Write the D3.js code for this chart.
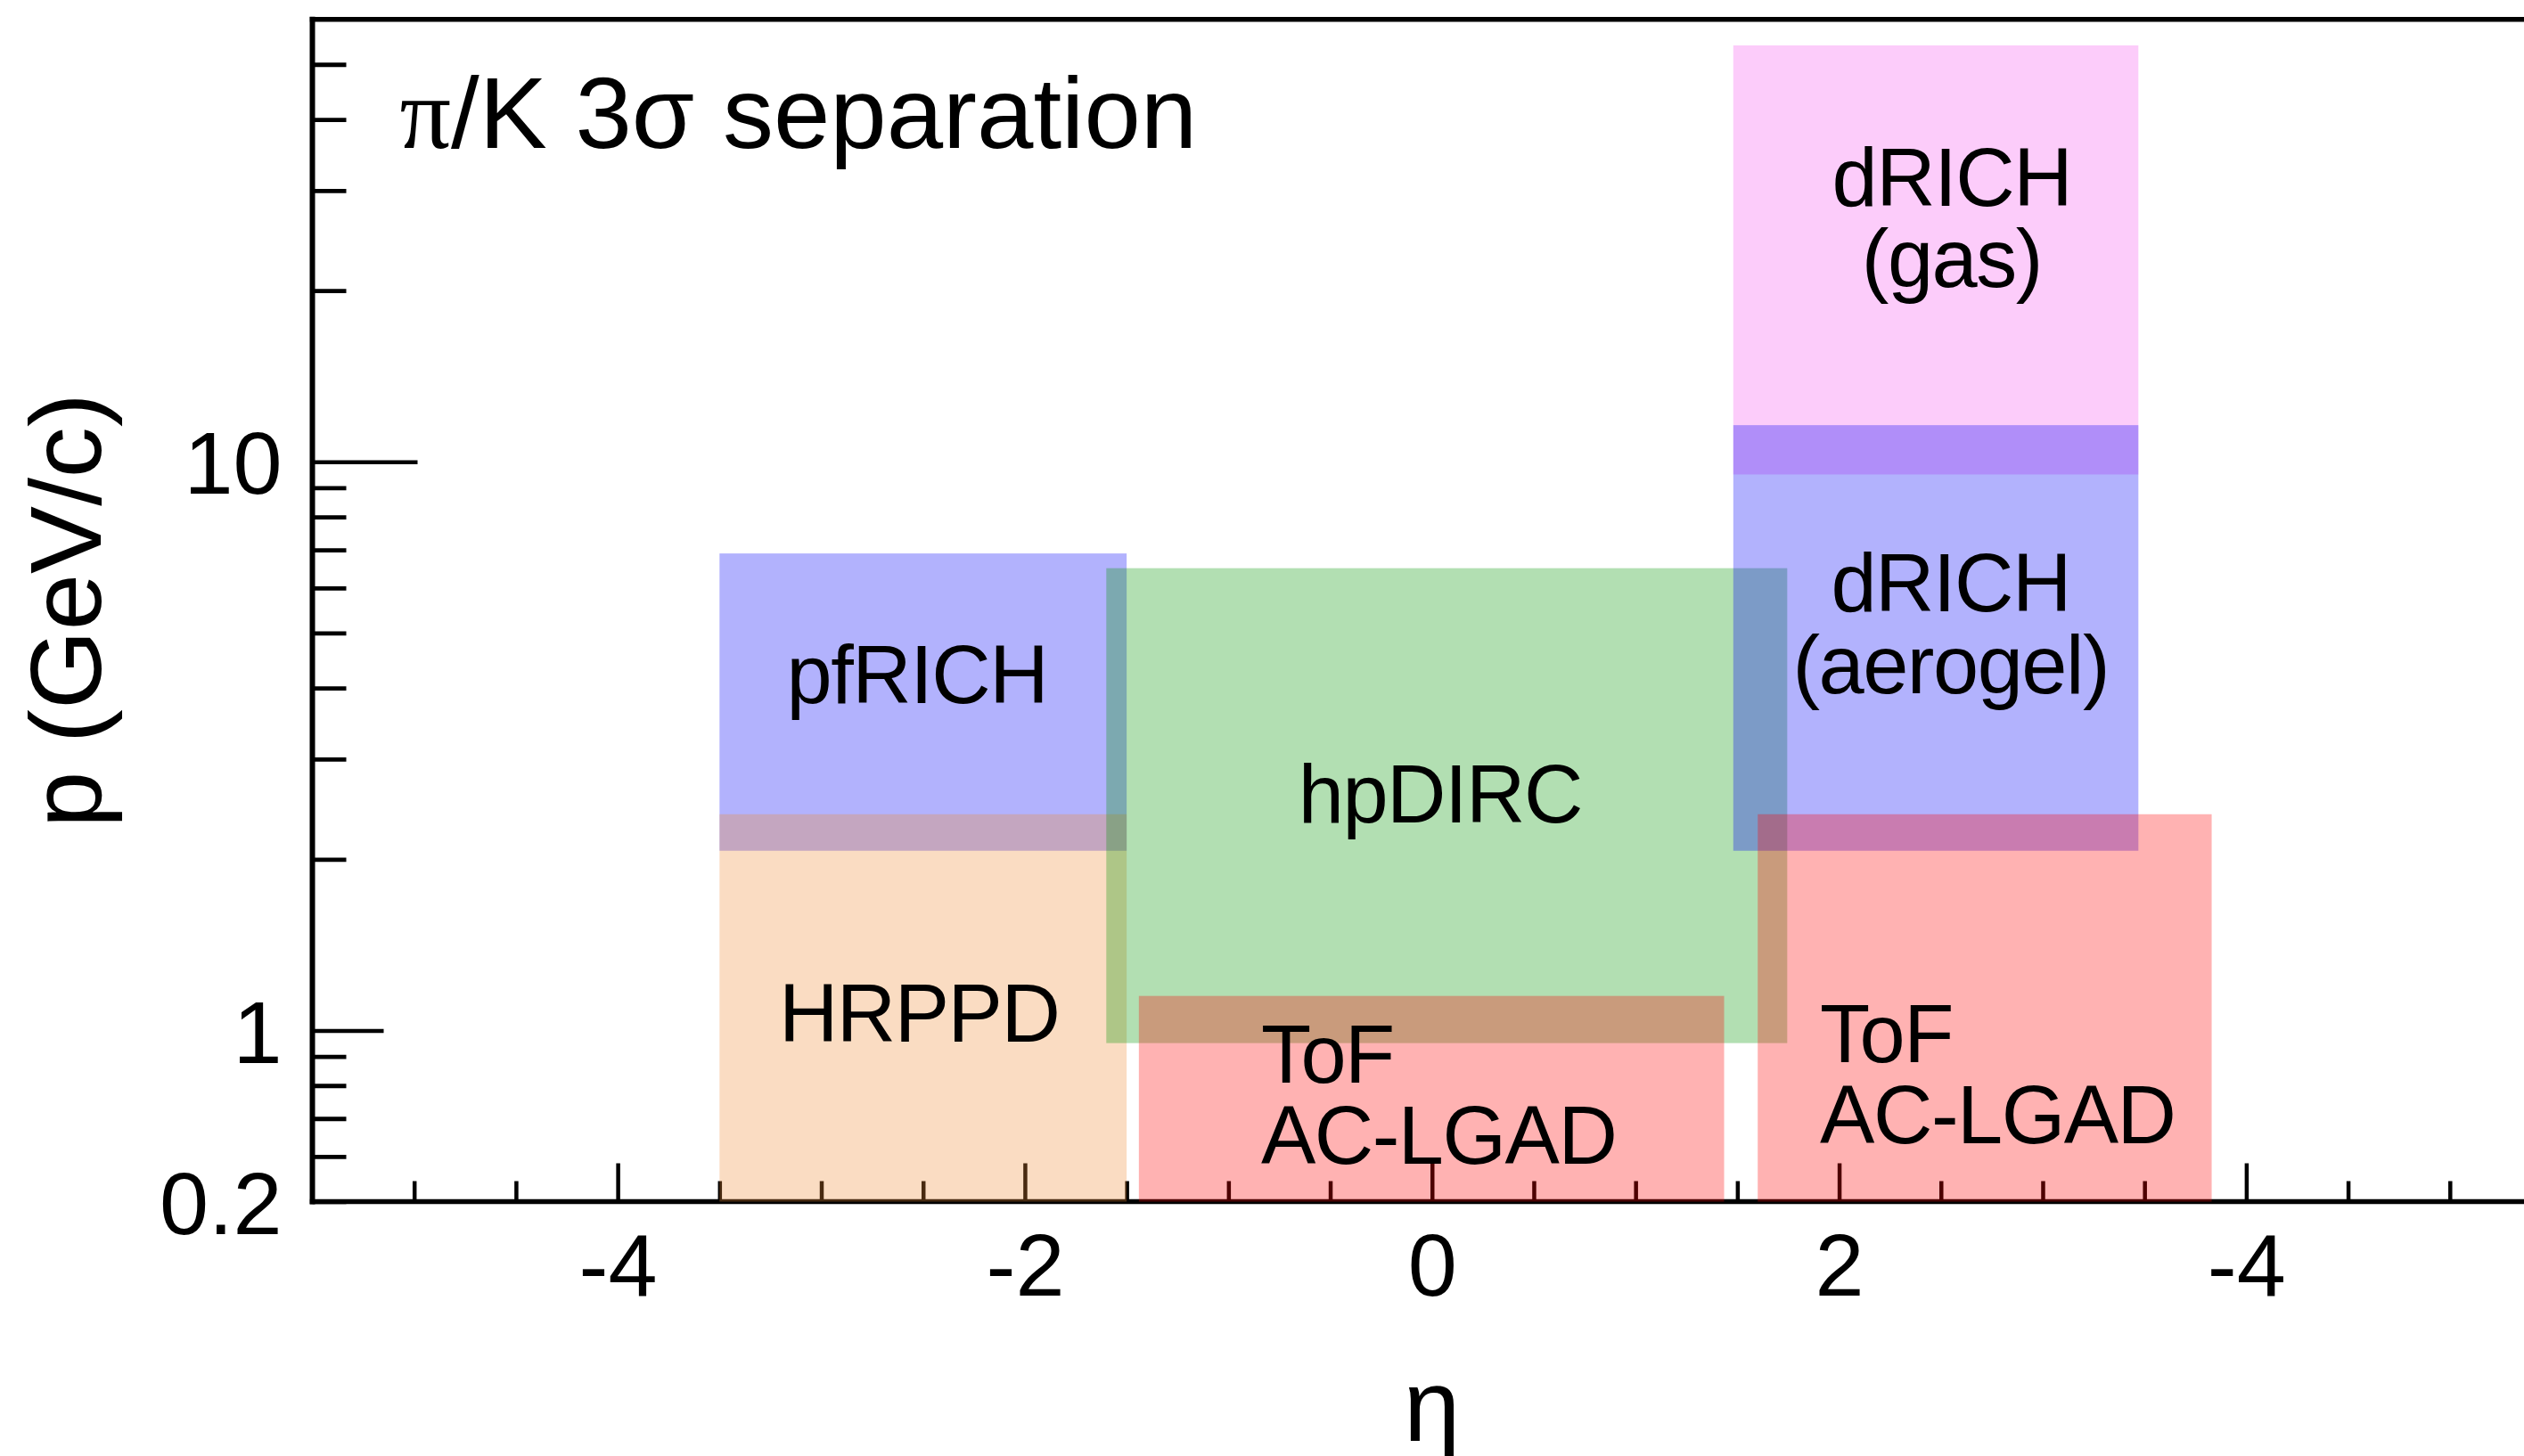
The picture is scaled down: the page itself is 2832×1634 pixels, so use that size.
<!DOCTYPE html>
<html>
<head>
<meta charset="utf-8">
<script src="https://cdn.jsdelivr.net/npm/d3@7"></script>
<style>
html, body { margin: 0; padding: 0; background: #fff; overflow: hidden; }
svg { display: block; }
text { font-family: "Liberation Sans", Arial, Helvetica, sans-serif; fill: #000; }
</style>
</head>
<body>
<svg id="chart" width="2832" height="1634"></svg>
<script>
// ---------------- data ----------------
const detectors   = ["pfRICH", "HRPPD", "dRICH (gas)", "hpDIRC", "dRICH (aerogel)", "ToF barrel", "ToF forward"];
const etaMin      = [-3.5, -3.5, 1.48, -1.6, 1.48, -1.44, 1.6];
const etaMax      = [-1.5, -1.5, 3.47, 1.745, 3.47, 1.435, 3.83];
const pMin        = [2.07, 0.5, 9.5, 0.95, 2.07, 0.5, 0.5];
const pMax        = [6.9, 2.4, 54, 6.5, 11.6, 1.15, 2.4];
const labelLines  = [["pfRICH"], ["HRPPD"], ["dRICH", "(gas)"], ["hpDIRC"], ["dRICH", "(aerogel)"], ["ToF", "AC-LGAD"], ["ToF", "AC-LGAD"]];
const labelEta    = [-2.53, -2.52, 2.553, 0.04, 2.548, -0.84, 1.906];
const labelP      = [3.77, 0.954, 28.2, 2.323, 5.45, 0.81, 0.88];

const xMajorTicks  = [-4, -2, 0, 2, 4];
const xMajorLabels = ["-4", "-2", "0", "2", "-4"];
const yMajorTicks  = [0.5, 1, 10];
const yMajorLabels = ["0.2", "1", "10"];

const xDomain = [-5.5, 5.5];
const yDomain = [0.5, 60];

// ---------------- styles ----------------
const fills = [
  "rgba(0,0,250,0.3)",     // pfRICH
  "rgba(238,138,52,0.3)",  // HRPPD
  "rgba(240,0,230,0.2)",   // dRICH gas
  "rgba(0,150,0,0.3)",     // hpDIRC
  "rgba(0,0,250,0.3)",     // dRICH aerogel
  "rgba(255,0,0,0.3)",     // ToF barrel
  "rgba(255,0,0,0.3)"      // ToF forward
];
const labelAnchor = ["middle", "middle", "middle", "middle", "middle", "start", "start"];

// ---------------- scales ----------------
const svg = d3.select("#chart");
const x = d3.scaleLinear().domain(xDomain).range([350.5, 2863]);
const y = d3.scaleLog().domain(yDomain).range([1348.5, 21.7]);

const x0 = x(xDomain[0]), x1 = x(xDomain[1]);
const yTop = y(yDomain[1]), yBot = y(yDomain[0]);

// ---------------- axes ----------------
const axesG = svg.append("g");

// x minor ticks
const xMinor = d3.range(-5, 5.51, 0.5).filter(v => !xMajorTicks.includes(v));
const xMinorAxis = d3.axisBottom(x).tickValues(xMinor).tickSize(-23).tickSizeOuter(0).tickFormat("");
const gxm = axesG.append("g").attr("transform", `translate(0,${yBot})`).call(xMinorAxis);
gxm.select(".domain").remove();
gxm.selectAll(".tick line").attr("stroke", "#000").attr("stroke-width", 4.5);

// x major ticks + labels
const xMajorAxis = d3.axisBottom(x).tickValues(xMajorTicks).tickSize(-43).tickSizeOuter(0)
  .tickFormat((d, i) => xMajorLabels[i]);
const gx = axesG.append("g").attr("transform", `translate(0,${yBot})`).call(xMajorAxis);
gx.select(".domain").remove();
gx.selectAll(".tick line").attr("stroke", "#000").attr("stroke-width", 4.5);
gx.selectAll(".tick text")
  .attr("y", 105).attr("dy", 0)
  .attr("font-size", 99)
  .attr("font-family", "Liberation Sans, Arial, sans-serif")
  .attr("fill", "#000");

// y minor ticks
const yMinor = y.ticks().filter(v => !yMajorTicks.includes(v) && v > yDomain[0] && v < yDomain[1]);
const yMinorAxis = d3.axisLeft(y).tickValues(yMinor).tickSize(-38).tickSizeOuter(0).tickFormat("");
const gym = axesG.append("g").attr("transform", `translate(${x0},0)`).call(yMinorAxis);
gym.select(".domain").remove();
gym.selectAll(".tick line").attr("stroke", "#000").attr("stroke-width", 4.8);

// y major ticks + labels
const yMajorLen = v => (v === 10 ? 118 : (v === 1 ? 80 : 38));
const yMajorAxis = d3.axisLeft(y).tickValues(yMajorTicks).tickSize(-38).tickSizeOuter(0)
  .tickFormat((d, i) => yMajorLabels[i]);
const gy = axesG.append("g").attr("transform", `translate(${x0},0)`).call(yMajorAxis);
gy.select(".domain").remove();
gy.selectAll(".tick line").attr("stroke", "#000").attr("stroke-width", 4.5)
  .attr("x2", d => yMajorLen(d));
gy.selectAll(".tick text")
  .attr("x", -34).attr("dy", "0.36em")
  .attr("text-anchor", "end")
  .attr("font-size", 99)
  .attr("font-family", "Liberation Sans, Arial, sans-serif")
  .attr("fill", "#000");

// frame lines
axesG.append("line").attr("x1", x0).attr("x2", x1 + 10).attr("y1", yTop).attr("y2", yTop)
  .attr("stroke", "#000").attr("stroke-width", 5.5).attr("stroke-linecap", "square");
axesG.append("line").attr("x1", x0).attr("x2", x0).attr("y1", yTop).attr("y2", yBot)
  .attr("stroke", "#000").attr("stroke-width", 6).attr("stroke-linecap", "square");
axesG.append("line").attr("x1", x0).attr("x2", x1 + 10).attr("y1", yBot).attr("y2", yBot)
  .attr("stroke", "#000").attr("stroke-width", 5.5).attr("stroke-linecap", "square");

// ---------------- boxes ----------------
const idx = d3.range(detectors.length);
svg.append("g").selectAll("rect").data(idx).join("rect")
  .attr("x", i => x(etaMin[i]))
  .attr("y", i => y(pMax[i]))
  .attr("width", i => x(etaMax[i]) - x(etaMin[i]))
  .attr("height", i => y(pMin[i]) - y(pMax[i]))
  .attr("fill", i => fills[i]);

// ---------------- box labels ----------------
const lblG = svg.append("g");
idx.forEach(i => {
  const t = lblG.append("text")
    .attr("x", x(labelEta[i]))
    .attr("y", y(labelP[i]))
    .attr("text-anchor", labelAnchor[i])
    .attr("letter-spacing", -1.5)
    .attr("font-size", 92);
  labelLines[i].forEach((line, k) => {
    t.append("tspan")
      .attr("x", x(labelEta[i]))
      .attr("dy", k === 0 ? 0 : 91.5)
      .text(line);
  });
});

// ---------------- titles ----------------
const title = svg.append("text")
  .attr("x", x0 + 98)
  .attr("y", yTop + 144)
  .attr("font-size", 114);
title.append("tspan").attr("font-family", "Liberation Serif, Times New Roman, serif").text("π");
title.append("tspan").text("/K 3σ separation");

svg.append("text")
  .attr("x", x(0))
  .attr("y", yBot + 268.5)
  .attr("text-anchor", "middle")
  .attr("font-size", 114)
  .text("η");

svg.append("text")
  .attr("transform", `translate(113,${(yTop + yBot) / 2}) rotate(-90)`)
  .attr("text-anchor", "middle")
  .attr("font-size", 114)
  .text("p (GeV/c)");
</script>
</body>
</html>
